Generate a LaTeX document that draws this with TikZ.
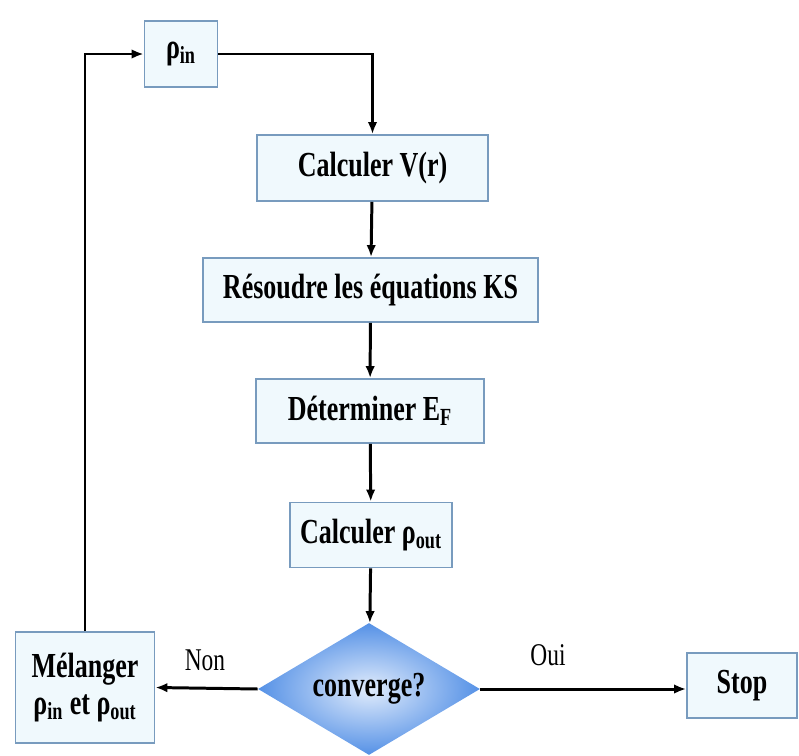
\documentclass[tikz,border=0pt]{standalone}
\usepackage{fontspec}
\newfontfamily\flowfont[FakeStretch=0.74]{Liberation Serif}
\usepackage{tikz}
\usetikzlibrary{arrows,shapes,positioning,arrows.meta,calc}

\definecolor{boxedge}{RGB}{120,155,190}
\definecolor{boxfill}{RGB}{240,249,253}
\definecolor{diaout}{RGB}{85,145,230}
\definecolor{diain}{RGB}{225,236,252}

\begin{document}
\begin{tikzpicture}[
    box/.style={rectangle, draw=boxedge, line width=1pt, fill=boxfill, inner sep=0pt,
        font=\flowfont\bfseries\fontsize{20}{21}\selectfont, align=center},
    flow/.style={-{Latex[length=2.4mm,width=1.9mm]}, line width=1.7pt},
    lbl/.style={font=\flowfont\fontsize{18}{20}\selectfont}
]
    \useasboundingbox (0,0) rectangle (15.98,-15.12);

    % Input density
    \node[box, minimum width=1.46cm, minimum height=1.32cm] (rhoin) at (3.62,-1.08) {ρ\textsubscript{in}};

    % Main steps
    \node[box, minimum width=4.62cm, minimum height=1.32cm] (calcV) at (7.45,-3.36) {Calculer V(r)};

    \node[box, minimum width=6.7cm, minimum height=1.28cm] (solveKS) at (7.41,-5.8) {Résoudre les équations KS};

    \node[box, minimum width=4.56cm, minimum height=1.28cm] (fermi) at (7.4,-8.22) {Déterminer E\textsubscript{F}};

    \node[box, minimum width=3.24cm, minimum height=1.3cm] (rhoout) at (7.42,-10.7) {Calculer ρ\textsubscript{out}};

    % Test
    \node[diamond, aspect=1.68, minimum width=4.44cm, minimum height=2.64cm, inner sep=0pt,
        shading=radial, inner color=diain, outer color=diaout,
        font=\flowfont\bfseries\fontsize{20}{21}\selectfont] (conv) at (7.38,-13.78) {converge?};

    % Mixing and exit
    \node[box, minimum width=2.78cm, minimum height=2.22cm] (mix) at (1.7,-13.75) {Mélanger\\ρ\textsubscript{in} et ρ\textsubscript{out}};

    \node[box, minimum width=2.2cm, minimum height=1.3cm] (stop) at (14.84,-13.71) {Stop};

    % Connections
    \draw[flow] (rhoin.east) -| (calcV.north);
    \draw[flow] (calcV) -- (solveKS);
    \draw[flow] (solveKS) -- (fermi);
    \draw[flow] (fermi) -- (rhoout);
    \draw[flow] (rhoout) -- (conv);
    \draw[flow] (conv.west) -- (mix.east);
    \draw[flow] (conv.east) -- (stop.west |- conv.east);
    \draw[flow] (mix.north) |- (rhoin.west);

    % Answers
    \node[lbl] (non) at (4.1,-13.2) {Non};
    \node[lbl] (oui) at (10.96,-13.1) {Oui};
\end{tikzpicture}
\end{document}
